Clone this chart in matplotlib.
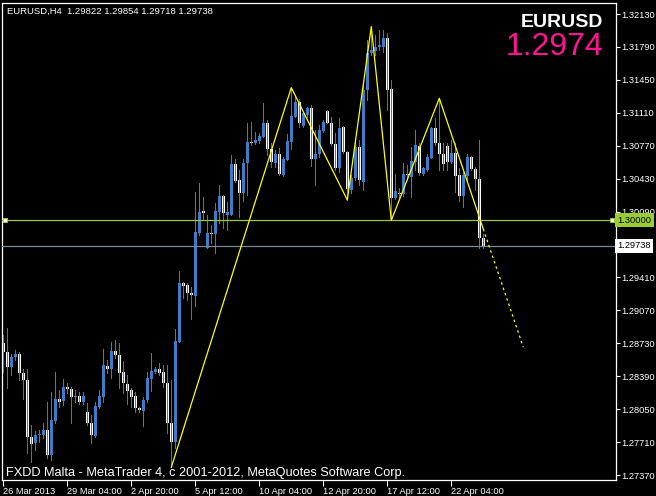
import matplotlib
matplotlib.use('Agg')
import matplotlib.pyplot as plt
import matplotlib.transforms as mtransforms
import numpy as np

plt.rcParams['font.family'] = ['Liberation Sans', 'DejaVu Sans']

# EURUSD H4 candles, oldest first (one per bar)
opens = [1.2873, 1.2864, 1.2849, 1.2859, 1.2862, 1.2842, 1.2835, 1.2776, 1.2770, 1.2778,
         1.2778, 1.2783, 1.2758, 1.2793, 1.2815, 1.2813, 1.2828, 1.2826, 1.2818, 1.2819,
         1.2812, 1.2802, 1.2791, 1.2777, 1.2807, 1.2818, 1.2850, 1.2847, 1.2865, 1.2861,
         1.2843, 1.2831, 1.2825, 1.2819, 1.2806, 1.2803, 1.2814, 1.2836, 1.2843, 1.2847,
         1.2843, 1.2832, 1.2791, 1.2771, 1.2874, 1.2935, 1.2933, 1.2925, 1.2922, 1.2987,
         1.3010, 1.2971, 1.2987, 1.2986, 1.3009, 1.3025, 1.3006, 1.3005, 1.3058, 1.3042,
         1.3028, 1.3059, 1.3081, 1.3080, 1.3082, 1.3086, 1.3100, 1.3074, 1.3059, 1.3068,
         1.3047, 1.3062, 1.3081, 1.3107, 1.3122, 1.3097, 1.3109, 1.3116, 1.3063, 1.3068,
         1.3092, 1.3113, 1.3101, 1.3079, 1.3054, 1.3096, 1.3071, 1.3031, 1.3044, 1.3076,
         1.3040, 1.3135, 1.3173, 1.3175, 1.3179, 1.3179, 1.3188, 1.3136, 1.3023, 1.3028,
         1.3027, 1.3048, 1.3045, 1.3060, 1.3077, 1.3048, 1.3052, 1.3064, 1.3095, 1.3080,
         1.3068, 1.3077, 1.3060, 1.3069, 1.3047, 1.3025, 1.3046, 1.3065, 1.3053, 1.3043,
         1.29822]
highs = [1.2882, 1.2889, 1.2862, 1.2866, 1.2864, 1.2846, 1.2846, 1.2789, 1.2782, 1.2784,
         1.2791, 1.2812, 1.2823, 1.2843, 1.2825, 1.2836, 1.2832, 1.2828, 1.2825, 1.2823,
         1.2823, 1.2811, 1.2799, 1.2812, 1.2825, 1.2867, 1.2856, 1.2874, 1.2876, 1.2873,
         1.2855, 1.2840, 1.2827, 1.2823, 1.2807, 1.2818, 1.2843, 1.2863, 1.2849, 1.2853,
         1.2851, 1.2851, 1.2835, 1.2888, 1.2948, 1.2936, 1.2935, 1.2931, 1.3029, 1.3039,
         1.3024, 1.3005, 1.2995, 1.3018, 1.3036, 1.3026, 1.3019, 1.3067, 1.3063, 1.3052,
         1.3063, 1.3100, 1.3102, 1.3091, 1.3090, 1.3121, 1.3104, 1.3080, 1.3073, 1.3075,
         1.3065, 1.3089, 1.3137, 1.3129, 1.3125, 1.3112, 1.3117, 1.3119, 1.3093, 1.3098,
         1.3104, 1.3114, 1.3107, 1.3090, 1.3106, 1.3097, 1.3072, 1.3047, 1.3083, 1.3083,
         1.3140, 1.3186, 1.3200, 1.3191, 1.3196, 1.3196, 1.3193, 1.3145, 1.3048, 1.3033,
         1.3059, 1.3057, 1.3076, 1.3093, 1.3080, 1.3055, 1.3068, 1.3096, 1.3106, 1.3126,
         1.3080, 1.3080, 1.3083, 1.3080, 1.3054, 1.3050, 1.3068, 1.3066, 1.3055, 1.3083,
         1.29854]
lows = [1.2843, 1.2827, 1.2840, 1.2856, 1.2835, 1.2815, 1.2760, 1.2750, 1.2763, 1.2771,
        1.2775, 1.2755, 1.2753, 1.2791, 1.2807, 1.2809, 1.2822, 1.2791, 1.2812, 1.2810,
        1.2810, 1.2789, 1.2770, 1.2776, 1.2806, 1.2812, 1.2842, 1.2837, 1.2858, 1.2827,
        1.2822, 1.2810, 1.2807, 1.2802, 1.2802, 1.2788, 1.2812, 1.2824, 1.2842, 1.2840,
        1.2828, 1.2780, 1.2745, 1.2765, 1.2874, 1.2920, 1.2918, 1.2898, 1.2912, 1.2985,
        1.3001, 1.2971, 1.2977, 1.2966, 1.2997, 1.2992, 1.2990, 1.3005, 1.3040, 1.3003,
        1.3020, 1.3026, 1.3078, 1.3079, 1.3080, 1.3086, 1.3067, 1.3055, 1.3055, 1.3047,
        1.3046, 1.3062, 1.3074, 1.3107, 1.3096, 1.3096, 1.3107, 1.3056, 1.3036, 1.3065,
        1.3091, 1.3100, 1.3078, 1.3052, 1.3050, 1.3069, 1.3021, 1.3028, 1.3042, 1.3036,
        1.3031, 1.3124, 1.3171, 1.3171, 1.3176, 1.3174, 1.3114, 1.3000, 1.3022, 1.3024,
        1.3025, 1.3042, 1.3024, 1.3052, 1.3047, 1.3047, 1.3051, 1.3064, 1.3078, 1.3052,
        1.3052, 1.3052, 1.3059, 1.3029, 1.3020, 1.3014, 1.3042, 1.3052, 1.3031, 1.2971,
        1.29718]
closes = [1.2864, 1.2849, 1.2859, 1.2862, 1.2842, 1.2835, 1.2776, 1.2769, 1.2778, 1.2779,
          1.2783, 1.2758, 1.2794, 1.2815, 1.2812, 1.2828, 1.2826, 1.2818, 1.2819, 1.2812,
          1.2819, 1.2791, 1.2778, 1.2808, 1.2819, 1.2851, 1.2847, 1.2865, 1.2861, 1.2842,
          1.2832, 1.2824, 1.2818, 1.2806, 1.2804, 1.2814, 1.2837, 1.2844, 1.2846, 1.2842,
          1.2832, 1.2791, 1.2771, 1.2875, 1.2935, 1.2932, 1.2925, 1.2923, 1.2988, 1.3009,
          1.3008, 1.2987, 1.2986, 1.3010, 1.3025, 1.3008, 1.3009, 1.3058, 1.3041, 1.3028,
          1.3059, 1.3081, 1.3080, 1.3083, 1.3087, 1.3100, 1.3074, 1.3060, 1.3068, 1.3048,
          1.3063, 1.3082, 1.3108, 1.3122, 1.3100, 1.3111, 1.3116, 1.3063, 1.3068, 1.3093,
          1.3102, 1.3101, 1.3079, 1.3054, 1.3095, 1.3071, 1.3032, 1.3044, 1.3076, 1.3042,
          1.3135, 1.3173, 1.3176, 1.3179, 1.3181, 1.3188, 1.3135, 1.3023, 1.3030, 1.3027,
          1.3048, 1.3047, 1.3061, 1.3078, 1.3049, 1.3054, 1.3065, 1.3095, 1.3080, 1.3068,
          1.3058, 1.3060, 1.3069, 1.3046, 1.3025, 1.3047, 1.3065, 1.3053, 1.3043, 1.2982,
          1.29738]

# zigzag turning points (bar index, price) and the dotted projection
zz_idx = [42, 72, 86, 92, 97, 109, 120]
zz_price = [1.2745, 1.3137, 1.3021, 1.3200, 1.3000, 1.3126, 1.2991]
proj_idx = [120, 130]
proj_price = [1.2991, 1.2869]

level_price = 1.30000
bid_price = 1.29738

ytick_vals = [1.32130, 1.31790, 1.31450, 1.31110, 1.30770, 1.30430, 1.30090,
              1.29410, 1.29070, 1.28730, 1.28390, 1.28050, 1.27710, 1.27370]
xtick_idx = [0, 16, 32, 48, 64, 80, 96, 112]
xtick_labels = ['26 Mar 2013', '29 Mar 04:00', '2 Apr 20:00', '5 Apr 12:00',
                '10 Apr 04:00', '12 Apr 20:00', '17 Apr 12:00', '22 Apr 04:00']

BLUE = '#3F7CC8'
GRAY = '#6E6E6E'
LEVEL = '#9ACD32'
BIDLINE = '#778899'

W, H = 656, 496
fig = plt.figure(figsize=(W / 100, H / 100), dpi=100, facecolor='black')
ax = fig.add_axes([2 / W, 1 - 479.5 / H, 613.5 / W, 477 / H])
ax.set_facecolor('black')

o, h, l, c = map(np.array, (opens, highs, lows, closes))
idx = np.arange(len(o))
up = c >= o
body_lo = np.minimum(o, c)
body_h = np.maximum(np.abs(c - o), 0.00011)

# bull candles: blue wick + blue body
ax.vlines(idx[up], l[up], h[up], color=BLUE, lw=0.6, zorder=2, antialiased=False)
ax.bar(idx[up], body_h[up], 0.82, bottom=body_lo[up], color=BLUE, lw=0, zorder=3,
       antialiased=False)
# bear candles: white body, gray wick drawn through it
ax.bar(idx[~up], body_h[~up], 0.82, bottom=body_lo[~up], color='white', lw=0, zorder=3,
       antialiased=False)
ax.vlines(idx[~up], l[~up], h[~up], color=GRAY, lw=0.5, zorder=4, antialiased=False)

# horizontal lines
trans = mtransforms.blended_transform_factory(ax.transAxes, ax.transData)
ax.axhline(level_price, color=LEVEL, lw=0.9, zorder=5)
ax.plot([0.005, 0.995], [level_price, level_price], 's', ms=3.2, mfc='white',
        mec=LEVEL, mew=0.7, transform=trans, clip_on=False, zorder=6)
ax.axhline(bid_price, color=BIDLINE, lw=0.9, zorder=5)

# zigzag
ax.plot(zz_idx, zz_price, color='yellow', lw=0.9, zorder=7)
ax.plot(proj_idx, proj_price, color='yellow', lw=0.9, ls=(0, (2, 2.5)), zorder=7)

ax.set_xlim(-0.325, 153.05)
ax.set_ylim(1.27324, 1.32249)

for s in ax.spines.values():
    s.set_color('white')
    s.set_linewidth(0.9)

ax.yaxis.tick_right()
ax.set_yticks(ytick_vals)
ax.set_yticklabels([f'{v:.5f}' for v in ytick_vals])
ax.tick_params(axis='y', colors='white', labelcolor='white', length=3, width=0.8,
               direction='out', pad=1.5, labelsize=6.7)
ax.set_xticks(xtick_idx)
ax.set_xticklabels(xtick_labels, ha='left')
ax.tick_params(axis='x', colors='white', labelcolor='white', length=4, width=0.8,
               direction='out', pad=1.5, labelsize=6.7)

# price tags on the right
ax.text(1.0035, level_price, f'{level_price:.5f}', transform=trans, ha='left', va='center',
        fontsize=6.7, color='black', clip_on=False, zorder=10,
        bbox=dict(boxstyle='square,pad=0.25', fc=LEVEL, ec='none'))
ax.text(1.0035, bid_price, f'{bid_price:.5f}', transform=trans, ha='left', va='center',
        fontsize=6.7, color='black', clip_on=False, zorder=10,
        bbox=dict(boxstyle='square,pad=0.25', fc='white', ec='none'))

# header / footer text
fig.text(7 / W, 1 - 14 / H,
         f'EURUSD,H4  {opens[-1]:.5f} {highs[-1]:.5f} {lows[-1]:.5f} {closes[-1]:.5f}',
         color='white', fontsize=6.8, ha='left', va='baseline')
fig.text(603 / W, 1 - 27 / H, 'EURUSD', color='white', fontsize=14, fontweight='bold',
         ha='right', va='baseline')
fig.text(603 / W, 1 - 55 / H, f'{bid_price:.4f}', color='#FF1493', fontsize=23,
         ha='right', va='baseline')
fig.text(6 / W, 1 - 476 / H,
         'FXDD Malta - MetaTrader 4, c 2001-2012, MetaQuotes Software Corp.',
         color='white', fontsize=9.2, ha='left', va='baseline')

fig.savefig('out.png', dpi=100, facecolor='black')
